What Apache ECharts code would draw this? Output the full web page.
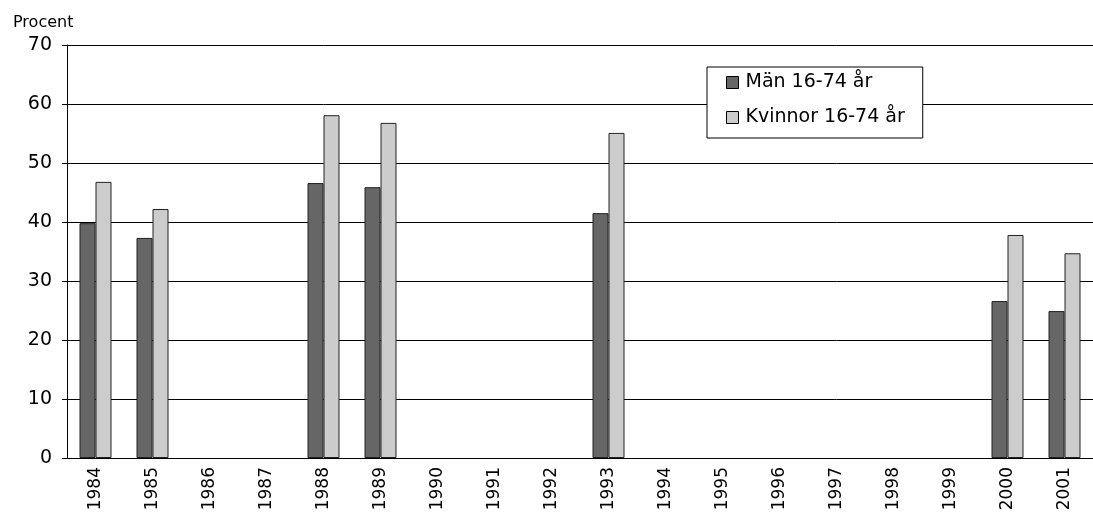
<!DOCTYPE html>
<html>
<head>
<meta charset="utf-8">
<script src="https://cdn.jsdelivr.net/npm/echarts@6/dist/echarts.min.js"></script>
<style>html,body{margin:0;padding:0;background:#fff;}#c{width:1093px;height:518px;}</style>
</head>
<body>
<div id="c"></div>
<script>
const years = ['1984','1985','1986','1987','1988','1989','1990','1991','1992','1993','1994','1995','1996','1997','1998','1999','2000','2001'];
const man = [39.8, 37.3, null, null, 46.6, 45.9, null, null, null, 41.5, null, null, null, null, null, null, 26.6, 24.9];
const kvinnor = [46.8, 42.2, null, null, 58.1, 56.8, null, null, null, 55.1, null, null, null, null, null, null, 37.8, 34.7];
const yTicks = [0, 10, 20, 30, 40, 50, 60, 70];
const font = 'DejaVu Sans, Arial, sans-serif';
const chart = echarts.init(document.getElementById('c'));
chart.setOption({
  animation: false,
  backgroundColor: '#fff',
  grid: { left: 67, right: 0, top: 45, bottom: 60, containLabel: false },
  title: { text: 'Procent', left: 8, top: 10, textStyle: { fontFamily: font, fontSize: 16, fontWeight: 'normal', color: '#000' } },
  legend: {
    left: 707, top: 67, orient: 'vertical', itemGap: 16,
    padding: [6, 18, 11, 19],
    borderColor: '#000', borderWidth: 1, backgroundColor: '#fff',
    itemWidth: 12, itemHeight: 12, icon: 'rect',
    itemStyle: { borderColor: '#000', borderWidth: 1 },
    textStyle: { fontFamily: font, fontSize: 19, color: '#000', padding: [0, 0, 0, 2] },
    data: ['Män 16-74 år', 'Kvinnor 16-74 år']
  },
  xAxis: {
    type: 'category', data: years,
    axisLine: { lineStyle: { color: '#000', width: 1 } },
    axisTick: { show: false },
    axisLabel: { rotate: 90, interval: 0, fontFamily: font, fontSize: 17, color: '#000', margin: 9 }
  },
  yAxis: {
    type: 'value', min: yTicks[0], max: yTicks[yTicks.length - 1], interval: 10,
    axisLine: { show: true, lineStyle: { color: '#000' } },
    axisTick: { show: true, length: 5, lineStyle: { color: '#000' } },
    axisLabel: { fontFamily: font, fontSize: 19, color: '#000', margin: 15 },
    splitLine: { lineStyle: { color: '#000', width: 1 } }
  },
  series: [
    { name: 'Män 16-74 år', type: 'bar', data: man, barWidth: 16, barGap: '0%',
      itemStyle: { color: '#666666', borderColor: '#222', borderWidth: 1 } },
    { name: 'Kvinnor 16-74 år', type: 'bar', data: kvinnor, barWidth: 16, barGap: '0%',
      itemStyle: { color: '#cccccc', borderColor: '#222', borderWidth: 1 } }
  ]
});
</script>
</body>
</html>
